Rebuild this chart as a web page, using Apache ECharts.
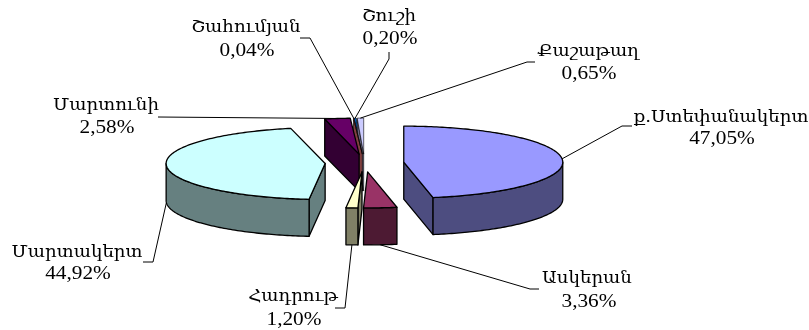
<!DOCTYPE html>
<html>
<head>
<meta charset="utf-8">
<style>
html, body { margin: 0; padding: 0; background: #fff; }
#chart { width: 809px; height: 330px; }
</style>
<script src="https://cdn.jsdelivr.net/npm/echarts@6/dist/echarts.min.js"></script>
</head>
<body>
<div id="chart"></div>
<script>
// clockwise from 12 o'clock
var names = ['ք.Ստեփանակերտ', 'Ասկերան', 'Հադրութ', 'Մարտակերտ', 'Մարտունի', 'Շահումյան', 'Շուշի', 'Քաշաթաղ'];
var shares = [47.05, 3.36, 1.20, 44.92, 2.58, 0.04, 0.20, 0.65];
var topColors = ['#9999FF', '#993366', '#FFFFCC', '#CCFFFF', '#660066', '#FF8080', '#0066CC', '#CCCCFF'];
var sideColors = ['#4D4D80', '#4D1A33', '#808066', '#668080', '#330033', '#804040', '#003366', '#666680'];
// back slices first so the front ones cover them
var drawOrder = [6, 7, 5, 4, 3, 0, 2, 1];

// pie geometry
var cx = 364.5, cy = 163, rx = 159, ry = 36, depth = 37, explode = 0.248;
// label centres and the leader line points after the anchor on the slice
var labelBoxes = [
	{ x: 721, y: 118, px: 722, py: 139, line: [[622, 126], [632, 126]] },
	{ x: 587, y: 279, px: 589, py: 302, line: [[530, 289], [539, 289]] },
	{ x: 293, y: 297, px: 294, py: 320, line: [[345, 308], [335, 308]] },
	{ x: 77, y: 253, px: 78, py: 274, line: [[153, 262], [143, 262]] },
	{ x: 106, y: 106, px: 107, py: 128, line: [[158, 117]] },
	{ x: 246, y: 28, px: 247, py: 51, line: [[310, 38], [300, 38]] },
	{ x: 389, y: 17, px: 390, py: 39, line: [[389, 59], [389, 52]] },
	{ x: 588, y: 52, px: 589, py: 74, line: [[527, 62], [535, 62]] }
];
var nameFont = '17px "DejaVu Serif", serif';
var pctFont = '19px "Liberation Serif", serif';

var total = 0;
for (var i = 0; i < shares.length; i++) total += shares[i];
var angles = [];
var cum = 0;
for (var i = 0; i < shares.length; i++) {
	var from = cum / total * 360;
	cum += shares[i];
	angles.push([from, cum / total * 360]);
}

function rad(deg) {
	return deg * Math.PI / 180;
}
function apexOf(i) {
	var mid = rad((angles[i][0] + angles[i][1]) / 2);
	return [cx + explode * rx * Math.sin(mid), cy - explode * ry * Math.cos(mid)];
}
function rim(apex, deg, dy) {
	return [apex[0] + rx * Math.sin(rad(deg)), apex[1] - ry * Math.cos(rad(deg)) + (dy || 0)];
}
function arcPoints(apex, a0, a1, dy) {
	var pts = [];
	var n = Math.max(1, Math.ceil(a1 - a0));
	for (var k = 0; k <= n; k++) {
		pts.push(rim(apex, a0 + (a1 - a0) * k / n, dy));
	}
	return pts;
}
function poly(points, fill, lw) {
	return {
		type: 'polygon',
		shape: { points: points },
		style: { fill: fill, stroke: '#000', lineWidth: lw, lineJoin: 'round' }
	};
}
function cutFace(apex, deg, fill, lw) {
	var low = [apex[0], apex[1] + depth];
	return poly([apex, rim(apex, deg), rim(apex, deg, depth), low], fill, lw);
}

function renderSlice(params) {
	var i = drawOrder[params.dataIndex];
	var a0 = angles[i][0], a1 = angles[i][1];
	var apex = apexOf(i);
	// slivers under 1% would be all outline otherwise
	var lw = shares[i] < 1 ? 0.6 : 1.3;
	var children = [];
	// cut faces that look towards the viewer
	if (Math.sin(rad(a0)) < 0) children.push(cutFace(apex, a0, sideColors[i], lw));
	if (Math.sin(rad(a1)) > 0) children.push(cutFace(apex, a1, sideColors[i], lw));
	// outer wall, only the front half of the rim
	var w0 = Math.max(a0, 90), w1 = Math.min(a1, 270);
	if (w1 > w0) {
		var wall = arcPoints(apex, w0, w1).concat(arcPoints(apex, w0, w1, depth).reverse());
		children.push(poly(wall, sideColors[i], lw));
	}
	children.push(poly([apex].concat(arcPoints(apex, a0, a1)), topColors[i], lw));
	return { type: 'group', children: children };
}

function renderLabel(params) {
	var i = params.dataIndex;
	var box = labelBoxes[i];
	var mid = (angles[i][0] + angles[i][1]) / 2;
	var front = mid > 90 && mid < 270;
	var anchor = rim(apexOf(i), mid, front ? depth : 0);
	var pct = shares[i].toFixed(2).replace('.', ',') + '%';
	function label(str, x, y, font, sx) {
		return {
			type: 'text',
			x: x,
			y: y,
			scaleX: sx,
			style: { text: str, font: font, fill: '#000', align: 'center', verticalAlign: 'middle' }
		};
	}
	return {
		type: 'group',
		children: [{
			type: 'polyline',
			shape: { points: [anchor].concat(box.line) },
			style: { fill: null, stroke: '#000', lineWidth: 1 }
		}, label(names[i], box.x, box.y, nameFont, 1.07), label(pct, box.px, box.py, pctFont, 1.12)]
	};
}

var chart = echarts.init(document.getElementById('chart'));
chart.setOption({
	backgroundColor: '#fff',
	animation: false,
	series: [{
		type: 'custom',
		coordinateSystem: 'none',
		silent: true,
		z: 2,
		data: drawOrder,
		renderItem: renderSlice
	}, {
		type: 'custom',
		coordinateSystem: 'none',
		silent: true,
		z: 3,
		data: names,
		renderItem: renderLabel
	}]
});
</script>
</body>
</html>
